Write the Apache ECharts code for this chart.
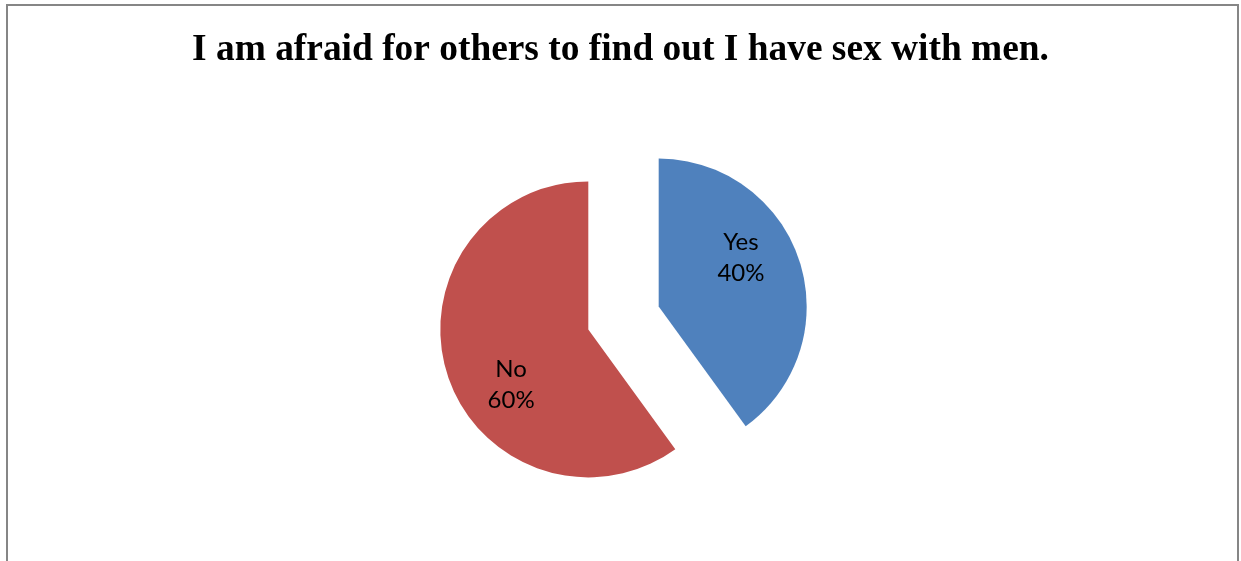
<!DOCTYPE html>
<html>
<head>
<meta charset="utf-8">
<script src="https://cdn.jsdelivr.net/npm/echarts@6/dist/echarts.min.js"></script>
<style>
html,body{margin:0;padding:0;background:#fff;}
#chart{width:1241px;height:561px;}
</style>
</head>
<body>
<div id="chart"></div>
<script>
const titleText = 'I am afraid for others to find out I have sex with men.';
const categories = ['Yes', 'No'];
const values = [40, 60];
const colors = ['#4F81BD', '#C0504D'];
const labelShift = [[9, -25], [-4, 32]];

const chart = echarts.init(document.getElementById('chart'), null, {renderer: 'canvas'});
chart.setOption({
  animation: false,
  backgroundColor: '#ffffff',
  title: {
    text: titleText,
    left: 'center',
    top: 32,
    padding: 0,
    textStyle: {
      fontFamily: '"Liberation Serif", "Times New Roman", serif',
      fontWeight: 'bold',
      fontSize: 37.4,
      color: '#000'
    }
  },
  graphic: [{
    type: 'rect',
    shape: {x: 7, y: 5, width: 1231, height: 620},
    style: {fill: 'none', stroke: '#868686', lineWidth: 2},
    silent: true
  }],
  series: [{
    type: 'pie',
    center: [623.5, 318],
    radius: [0, 148],
    startAngle: 90,
    clockwise: true,
    selectedMode: 'multiple',
    selectedOffset: 37,
    silent: true,
    avoidLabelOverlap: false,
    itemStyle: {borderWidth: 0},
    label: {
      show: true,
      position: 'inside',
      formatter: '{b}\n{d}%',
      fontFamily: 'Lato, "Open Sans", sans-serif',
      fontSize: 24,
      lineHeight: 31,
      color: '#000'
    },
    labelLine: {show: false},
    labelLayout: function (p) {
      const s = labelShift[p.dataIndex];
      return {dx: s[0], dy: s[1]};
    },
    emphasis: {disabled: true},
    data: categories.map((c, i) => ({
      name: c,
      value: values[i],
      selected: true,
      itemStyle: {color: colors[i]},
      select: {itemStyle: {color: colors[i]}}
    }))
  }]
});
</script>
</body>
</html>
